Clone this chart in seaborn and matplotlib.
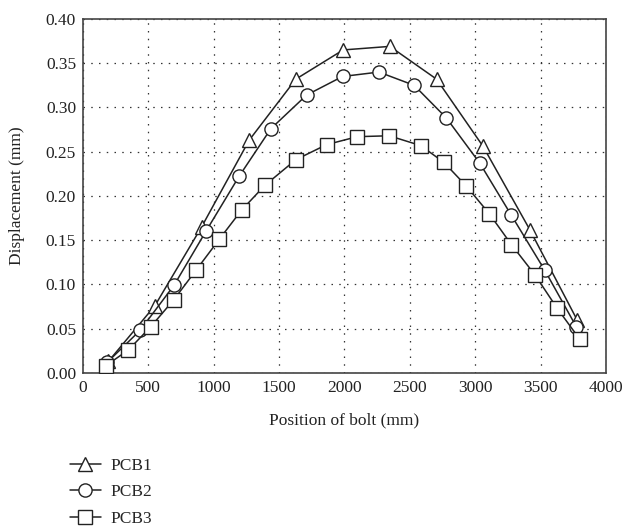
import matplotlib
matplotlib.use("Agg")
import matplotlib.pyplot as plt
import seaborn as sns
import pandas as pd

pcb1_x = [194, 550, 907, 1271, 1628, 1990, 2347, 2704, 3060, 3417, 3779]
pcb1_y = [0.013, 0.076, 0.165, 0.263, 0.332, 0.365, 0.369, 0.332, 0.256, 0.162, 0.060]

pcb2_x = [185, 436, 696, 940, 1193, 1437, 1710, 1985, 2263, 2533, 2780, 3035, 3277, 3532, 3774]
pcb2_y = [0.012, 0.048, 0.099, 0.160, 0.222, 0.276, 0.314, 0.335, 0.340, 0.325, 0.288, 0.237, 0.178, 0.116, 0.052]

pcb3_x = [173, 347, 517, 696, 864, 1042, 1213, 1391, 1628, 1863, 2098, 2342, 2582, 2760, 2933, 3107, 3277, 3456, 3627, 3800]
pcb3_y = [0.008, 0.026, 0.052, 0.083, 0.116, 0.151, 0.184, 0.212, 0.241, 0.258, 0.267, 0.268, 0.257, 0.238, 0.211, 0.180, 0.145, 0.111, 0.073, 0.038]

series_names = ["PCB1", "PCB2", "PCB3"]
markers = ["^", "o", "s"]
x_ticks = [0, 500, 1000, 1500, 2000, 2500, 3000, 3500, 4000]
y_ticks = [0.00, 0.05, 0.10, 0.15, 0.20, 0.25, 0.30, 0.35, 0.40]

sns.set_style("white")
plt.rcParams["font.family"] = ["Liberation Serif", "DejaVu Serif"]
fs = 12.5
plt.rcParams["font.size"] = fs

fig = plt.figure(figsize=(6.23, 5.28), dpi=100)
ax = fig.add_axes([0.1332, 0.2936, 0.8395, 0.6705])

data = [(pcb1_x, pcb1_y), (pcb2_x, pcb2_y), (pcb3_x, pcb3_y)]
handles = []
for (xs, ys), name, m in zip(data, series_names, markers):
    df = pd.DataFrame({"x": xs, "y": ys})
    sns.lineplot(data=df, x="x", y="y", ax=ax, color="#222222", linewidth=1.1,
                 marker=m, markersize=10.5 if m == "^" else 9.5, markerfacecolor="white",
                 markeredgecolor="#222222", markeredgewidth=1.0, label=name,
                 sort=False, legend=False, zorder=3)
    handles.append(ax.lines[-1])

ax.set_xlim(0, 4000)
ax.set_ylim(0, 0.40)
ax.set_xticks(x_ticks)
ax.set_yticks(y_ticks)
ax.set_yticklabels([f"{v:.2f}" for v in y_ticks])
ax.grid(True, color="#333333", linestyle=(0, (1.2, 5)), linewidth=0.9)
ax.tick_params(direction="in", length=4, width=1, colors="#222222", labelcolor="#222222",
               labelsize=fs, pad=5)
for s in ax.spines.values():
    s.set_color("#444444")
    s.set_linewidth(1.2)
ax.set_xlabel("Position of bolt (mm)", fontsize=fs, color="#222222", labelpad=12)
ax.set_ylabel("Displacement (mm)", fontsize=fs, color="#222222", labelpad=15)

fig.legend(handles, series_names, loc="upper left", bbox_to_anchor=(0.112, 0.133),
           frameon=False, fontsize=fs, handlelength=1.8, handletextpad=0.55,
           labelspacing=0.6, borderaxespad=0, borderpad=0)

fig.savefig("out.png", dpi=100)
